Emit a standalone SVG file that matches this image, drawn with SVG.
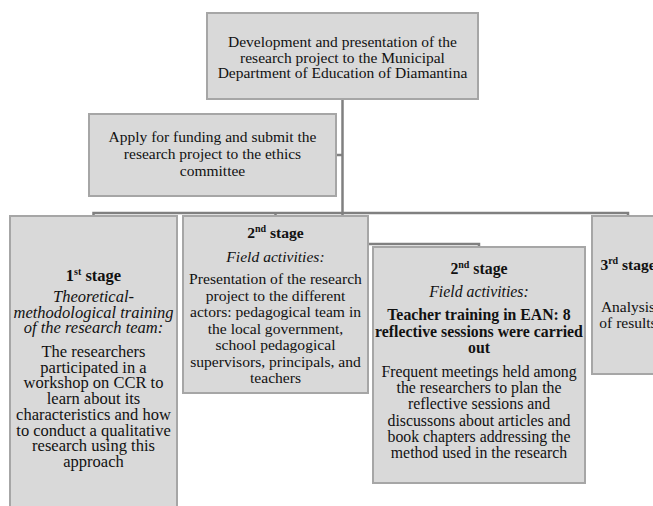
<svg xmlns="http://www.w3.org/2000/svg" width="653" height="506" viewBox="0 0 653 506">
<style>
.box{fill:#d9d9d9;stroke:#a6a6a6;stroke-width:2}
.con{fill:none;stroke:#808080;stroke-width:2.5}
text{font-family:"Liberation Serif","Times New Roman",serif;fill:#111;text-anchor:middle}
.b{font-weight:bold}
.i{font-style:italic}
.sup{font-size:10px}
</style>
<rect width="653" height="506" fill="#ffffff"/>
<g id="connectors">
<path class="con" d="M342.5 99 V213"/>
<path class="con" d="M336 155 H342.5"/>
<path class="con" d="M93.5 217 V213 H628 V217"/>
<path class="con" d="M275.5 213 V217"/>
<path class="con" d="M342.5 213 V244 H479 V248"/>
</g>
<g id="node-top">
<rect class="box" x="207" y="13" width="271" height="86"/>
<text font-size="15.5" x="342.5" y="47">Development and presentation of the</text>
<text font-size="15.5" x="342.5" y="62.5">research project to the Municipal</text>
<text font-size="15.5" x="342.5" y="78">Department of Education of Diamantina</text>
</g>
<g id="node-apply">
<rect class="box" x="89" y="114" width="247" height="82"/>
<text font-size="15.5" x="212.5" y="142">Apply for funding and submit the</text>
<text font-size="15.5" x="212.5" y="159">research project to the ethics</text>
<text font-size="15.5" x="212.5" y="176">committee</text>
</g>
<g id="node-stage1">
<rect class="box" x="10" y="216" width="167" height="310"/>
<g font-size="16.5">
<text class="b" x="93.5" y="281">1<tspan class="sup" dy="-6">st</tspan><tspan dy="6"> stage</tspan></text>
<text class="i" x="93.5" y="302">Theoretical-</text>
<text class="i" x="93.5" y="318">methodological training</text>
<text class="i" x="93.5" y="333">of the research team:</text>
<text x="93.5" y="357">The researchers</text>
<text x="93.5" y="372.7">participated in a</text>
<text x="93.5" y="388.4">workshop on CCR to</text>
<text x="93.5" y="404.1">learn about its</text>
<text x="93.5" y="419.8">characteristics and how</text>
<text x="93.5" y="435.5">to conduct a qualitative</text>
<text x="93.5" y="451.2">research using this</text>
<text x="93.5" y="466.9">approach</text>
</g>
</g>
<g id="node-stage2a">
<rect class="box" x="183" y="216" width="185" height="177"/>
<g font-size="15.6">
<text class="b" x="275.5" y="238">2<tspan class="sup" dy="-6">nd</tspan><tspan dy="6"> stage</tspan></text>
<text class="i" x="275.5" y="262">Field activities:</text>
<text x="275.5" y="284">Presentation of the research</text>
<text x="275.5" y="300.6">project to the different</text>
<text x="275.5" y="317.2">actors: pedagogical team in</text>
<text x="275.5" y="333.8">the local government,</text>
<text x="275.5" y="350.4">school pedagogical</text>
<text x="275.5" y="367">supervisors, principals, and</text>
<text x="275.5" y="383">teachers</text>
</g>
</g>
<g id="node-stage2b">
<rect class="box" x="373" y="247" width="212" height="236"/>
<g font-size="15.8">
<text class="b" x="479" y="274">2<tspan class="sup" dy="-6">nd</tspan><tspan dy="6"> stage</tspan></text>
<text class="i" x="479" y="297">Field activities:</text>
<text class="b" x="479" y="320">Teacher training in EAN: 8</text>
<text class="b" x="479" y="337">reflective sessions were carried</text>
<text class="b" x="479" y="353">out</text>
<text x="479" y="377">Frequent meetings held among</text>
<text x="479" y="393.2">the researchers to plan the</text>
<text x="479" y="409.4">reflective sessions and</text>
<text x="479" y="425.6">discussons about articles and</text>
<text x="479" y="441.8">book chapters addressing the</text>
<text x="479" y="458">method used in the research</text>
</g>
</g>
<g id="node-stage3">
<rect class="box" x="592" y="216" width="72" height="158"/>
<g font-size="15.5">
<text class="b" x="628" y="270">3<tspan class="sup" dy="-6">rd</tspan><tspan dy="6"> stage</tspan></text>
<text x="628" y="312">Analysis</text>
<text x="628" y="328">of results</text>
</g>
</g>
</svg>
